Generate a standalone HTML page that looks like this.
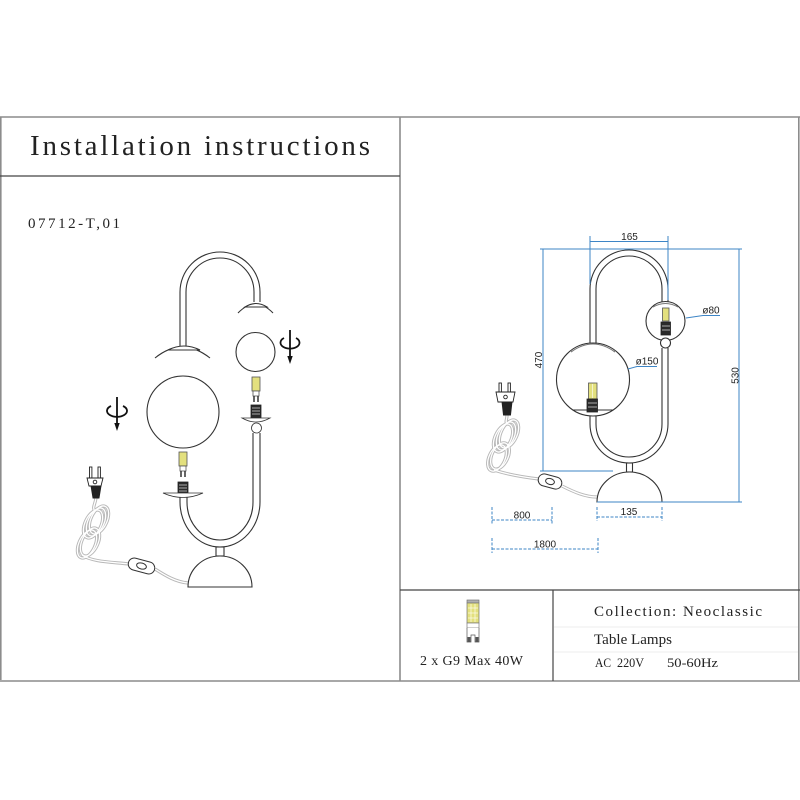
<!DOCTYPE html>
<html><head><meta charset="utf-8"><style>
html,body{margin:0;padding:0;background:#fff;}
svg{display:block;}
</style></head><body>
<svg width="800" height="800" viewBox="0 0 800 800" xmlns="http://www.w3.org/2000/svg">
<rect width="800" height="800" fill="#fff"/>

<!-- frame -->
<g stroke="#8c8c8c" stroke-width="1.6" fill="none">
<line x1="0" y1="117" x2="800" y2="117"/>
<line x1="0.8" y1="117" x2="0.8" y2="681"/>
<line x1="798.8" y1="117" x2="798.8" y2="681"/>
<line x1="0" y1="681" x2="800" y2="681" stroke="#a8a8a8" stroke-width="2"/>
<line x1="400" y1="117" x2="400" y2="681"/>
</g>
<g stroke="#444" stroke-width="1.2">
<line x1="0" y1="176" x2="400" y2="176"/>
<line x1="400" y1="590" x2="800" y2="590"/>
<line x1="553" y1="590" x2="553" y2="681"/>
</g>
<g stroke="#eeeeee" stroke-width="1">
<line x1="554" y1="627" x2="798" y2="627"/>
<line x1="554" y1="652" x2="798" y2="652"/>
</g>

<!-- texts -->
<g font-family="'Liberation Serif', serif" fill="#222">
<text x="30" y="155" font-size="29" textLength="340" lengthAdjust="spacing">Installation instructions</text>
<text x="28" y="228" font-size="15" textLength="92" lengthAdjust="spacing">07712-T,01</text>
<text x="420" y="665" font-size="14" textLength="103" lengthAdjust="spacing">2 x G9 Max 40W</text>
<text x="594" y="616" font-size="15" textLength="168" lengthAdjust="spacing">Collection: Neoclassic</text>
<text x="594" y="644" font-size="15" textLength="78" lengthAdjust="spacing">Table Lamps</text>
<text x="595" y="667" font-size="13" textLength="16" lengthAdjust="spacingAndGlyphs">AC</text>
<text x="617" y="667" font-size="13" textLength="27" lengthAdjust="spacingAndGlyphs">220V</text>
<text x="667" y="667" font-size="13" textLength="51" lengthAdjust="spacingAndGlyphs">50-60Hz</text>
</g>

<!-- panel bulb icon -->
<g stroke-width="0.7">
<rect x="467" y="600" width="12" height="3" fill="#b0b0b0" stroke="#777"/>
<rect x="467" y="603" width="12" height="20" fill="#e3e07e" stroke="#777"/>
<g stroke="#fff" stroke-width="0.6">
<line x1="471" y1="604" x2="471" y2="622"/><line x1="475" y1="604" x2="475" y2="622"/>
<line x1="468" y1="608" x2="478" y2="608"/><line x1="468" y1="613" x2="478" y2="613"/><line x1="468" y1="618" x2="478" y2="618"/>
</g>
<rect x="467" y="623" width="12" height="5" fill="#fff" stroke="#777"/>
<path d="M467,628 V642 H471 V635 H475 V642 H479 V628" fill="#fff" stroke="#555"/>
<rect x="467.5" y="637" width="3" height="5" fill="#555" stroke="none"/>
<rect x="475.5" y="637" width="3" height="5" fill="#555" stroke="none"/>
</g>

<!-- ============ LEFT DRAWING ============ -->
<g fill="none" stroke="#b8b8b8" stroke-width="3.2">
<path d="M96,498 C95,505 92,507 95,512"/>
<ellipse cx="99" cy="520" rx="8" ry="15" transform="rotate(25 99 520)"/>
<ellipse cx="96" cy="522" rx="8" ry="15" transform="rotate(25 96 522)"/>
<ellipse cx="93" cy="524" rx="8" ry="15" transform="rotate(25 93 524)"/>
<ellipse cx="90" cy="542" rx="8" ry="15" transform="rotate(25 90 542)"/>
<ellipse cx="87" cy="544" rx="8" ry="15" transform="rotate(25 87 544)"/>
<path d="M82,555 C92,562 112,562 129,564"/>
<path d="M155,569 C166,576 176,582 188,583"/>
</g>
<g fill="none" stroke="#fff" stroke-width="1.3">
<path d="M96,498 C95,505 92,507 95,512"/>
<ellipse cx="99" cy="520" rx="8" ry="15" transform="rotate(25 99 520)"/>
<ellipse cx="96" cy="522" rx="8" ry="15" transform="rotate(25 96 522)"/>
<ellipse cx="93" cy="524" rx="8" ry="15" transform="rotate(25 93 524)"/>
<ellipse cx="90" cy="542" rx="8" ry="15" transform="rotate(25 90 542)"/>
<ellipse cx="87" cy="544" rx="8" ry="15" transform="rotate(25 87 544)"/>
<path d="M82,555 C92,562 112,562 129,564"/>
<path d="M155,569 C166,576 176,582 188,583"/>
</g>
<g transform="rotate(15 141.5 566)" stroke="#333" stroke-width="1" fill="#fff">
<rect x="128" y="560" width="27" height="12" rx="6"/>
<ellipse cx="141.5" cy="566" rx="5" ry="3"/>
</g>
<g stroke="#222" stroke-width="0.9" fill="#fff">
<rect x="89.5" y="467" width="2.4" height="11"/>
<rect x="98" y="467" width="2.4" height="11"/>
<path d="M87,478 L103,478 L101,486 L89,486 Z"/>
<circle cx="95" cy="482" r="1.8"/>
<path d="M91,486 L101,486 L99,498 L93,498 Z" fill="#222"/>
</g>

<g fill="none" stroke="#333" stroke-width="1.1">
<path d="M180,347 V292 A40,40 0 0 1 260,292 V302"/>
<path d="M186,347 V292 A34,34 0 0 1 254,292 V302"/>
<path d="M155,358 Q182,336 210,358"/>
<path d="M168,350 Q184,342 200,350 Z" fill="#fff"/>
<path d="M238,313 Q255.5,295 273,313"/>
<path d="M245,307 Q256,300 267,307 Z" fill="#fff"/>
<circle cx="255.5" cy="352" r="19.5"/>
<circle cx="183" cy="412" r="36"/>
<path d="M180,497 V502 A40,45 0 0 0 260,502 V433"/>
<path d="M187,497 V502 A33,38 0 0 0 253,502 V433"/>
<rect x="216" y="547" width="8" height="9" fill="#fff"/>
<path d="M188,587 A32,31 0 0 1 252,587 Z" fill="#fff"/>
</g>

<g stroke="#555" stroke-width="0.8">
<rect x="252" y="377" width="8" height="14" fill="#e3e07e"/>
<rect x="253" y="391" width="6" height="5" fill="#fff"/>
<line x1="254" y1="396" x2="254" y2="402" stroke="#333" stroke-width="1.5"/>
<line x1="258" y1="396" x2="258" y2="402" stroke="#333" stroke-width="1.5"/>
<rect x="251" y="405" width="10" height="13" fill="#2a2a2a" stroke="#222"/>
<path d="M242,418 L270,418 Q256,426 242,418 Z" fill="#fff" stroke="#333"/>
<circle cx="256.5" cy="428" r="5" fill="#fff" stroke="#333"/>

<rect x="179" y="452" width="8" height="14" fill="#e3e07e"/>
<rect x="180" y="466" width="6" height="5" fill="#fff"/>
<line x1="181" y1="471" x2="181" y2="477" stroke="#333" stroke-width="1.5"/>
<line x1="185" y1="471" x2="185" y2="477" stroke="#333" stroke-width="1.5"/>
<rect x="178" y="482" width="10" height="12" fill="#2a2a2a" stroke="#222"/>
<path d="M163,493 L203,493 Q183,502 163,493 Z" fill="#fff" stroke="#333"/>
</g>
<g stroke="#fff" stroke-width="0.6">
<line x1="252" y1="408" x2="260" y2="408"/><line x1="252" y1="411" x2="260" y2="411"/><line x1="252" y1="414" x2="260" y2="414"/>
<line x1="179" y1="485" x2="187" y2="485"/><line x1="179" y1="488" x2="187" y2="488"/><line x1="179" y1="491" x2="187" y2="491"/>
</g>

<g stroke="#111" stroke-width="1.8" fill="none">
<line x1="290" y1="330" x2="290" y2="358"/>
<path d="M284,338 A9.5,6 0 1 0 296,338"/>
<line x1="117" y1="397" x2="117" y2="424"/>
<path d="M111,406 A10,6 0 1 0 123,406"/>
</g>
<polygon points="287.3,356 292.7,356 290,364" fill="#111"/>
<polygon points="114.3,423 119.7,423 117,431" fill="#111"/>

<!-- ============ RIGHT DRAWING ============ -->
<g fill="none" stroke="#b8b8b8" stroke-width="3.2">
<path d="M507,415 C507,420 505,421 507,424"/>
<ellipse cx="509" cy="434" rx="8" ry="15" transform="rotate(25 509 434)"/>
<ellipse cx="506" cy="436" rx="8" ry="15" transform="rotate(25 506 436)"/>
<ellipse cx="503" cy="438" rx="8" ry="15" transform="rotate(25 503 438)"/>
<ellipse cx="500" cy="456" rx="8" ry="14" transform="rotate(25 500 456)"/>
<ellipse cx="497" cy="458" rx="8" ry="14" transform="rotate(25 497 458)"/>
<path d="M494,470 C506,474 522,477 539,479"/>
<path d="M562,486 C574,492 585,497 597,497"/>
</g>
<g fill="none" stroke="#fff" stroke-width="1.3">
<path d="M507,415 C507,420 505,421 507,424"/>
<ellipse cx="509" cy="434" rx="8" ry="15" transform="rotate(25 509 434)"/>
<ellipse cx="506" cy="436" rx="8" ry="15" transform="rotate(25 506 436)"/>
<ellipse cx="503" cy="438" rx="8" ry="15" transform="rotate(25 503 438)"/>
<ellipse cx="500" cy="456" rx="8" ry="14" transform="rotate(25 500 456)"/>
<ellipse cx="497" cy="458" rx="8" ry="14" transform="rotate(25 497 458)"/>
<path d="M494,470 C506,474 522,477 539,479"/>
<path d="M562,486 C574,492 585,497 597,497"/>
</g>
<g transform="rotate(15 550 481.5)" stroke="#333" stroke-width="1" fill="#fff">
<rect x="538" y="475.5" width="24" height="12" rx="6"/>
<ellipse cx="550" cy="481.5" rx="4.5" ry="3"/>
</g>
<g stroke="#222" stroke-width="0.9" fill="#fff">
<rect x="499" y="383" width="2.4" height="9.5"/>
<rect x="508" y="383" width="2.4" height="9.5"/>
<path d="M496,392 L515,392 L513,402 L498,402 Z"/>
<circle cx="505.5" cy="397" r="1.8"/>
<path d="M502,402 L512,402 L510.5,415 L503.5,415 Z" fill="#222"/>
</g>

<g fill="none" stroke="#333" stroke-width="1.1">
<path d="M590,343 V289 A39,39 0 0 1 668,289 V302"/>
<path d="M596,344 V289 A33,33 0 0 1 662,289 V302"/>
<circle cx="593" cy="379.5" r="36.5"/>
<path d="M571,352 Q593,336 615,352" stroke="#777"/>
<line x1="573" y1="410" x2="613" y2="410"/>
<circle cx="665.5" cy="321" r="19.5"/>
<path d="M653,307 Q665.5,300 678,307" stroke="#777"/>
<path d="M590,416 V424 A39,39 0 0 0 668,424 V348"/>
<path d="M596,416 V424 A33,33 0 0 0 662,424 V348"/>
<circle cx="665.5" cy="343" r="5" fill="#fff"/>
<rect x="626.5" y="463" width="6" height="9" fill="#fff"/>
<path d="M597,502 A32.5,30 0 0 1 662,502 Z" fill="#fff"/>
</g>
<g stroke="#555" stroke-width="0.8">
<rect x="662.5" y="308" width="6.5" height="13" fill="#e3e07e"/>
<rect x="661" y="322" width="9.5" height="13" fill="#2a2a2a" stroke="#222"/>
<rect x="588.5" y="383" width="8.5" height="16" fill="#e3e07e"/>
<rect x="587" y="399" width="10.5" height="13" fill="#2a2a2a" stroke="#222"/>
</g>
<g stroke="#fff" stroke-width="0.6">
<line x1="662" y1="326" x2="670" y2="326"/><line x1="662" y1="330" x2="670" y2="330"/>
<line x1="588" y1="403" x2="597" y2="403"/><line x1="588" y1="407" x2="597" y2="407"/>
<line x1="592.5" y1="384" x2="592.5" y2="398"/>
</g>

<!-- dimensions -->
<g stroke="#3d85c6" stroke-width="1" fill="none">
<line x1="590" y1="236" x2="590" y2="284"/>
<line x1="668" y1="236" x2="668" y2="300"/>
<line x1="590" y1="241.5" x2="668" y2="241.5"/>
<line x1="540" y1="249" x2="742" y2="249"/>
<line x1="543" y1="249" x2="543" y2="471"/>
<line x1="540" y1="471" x2="613" y2="471"/>
<line x1="739" y1="249" x2="739" y2="502"/>
<line x1="597" y1="502" x2="742" y2="502"/>
<polyline points="686,318 703,315.5 720,315.5"/>
<polyline points="628,369 637,366.5 657,366.5"/>
</g>
<g stroke="#3d85c6" stroke-width="1" stroke-dasharray="3,1.5" fill="none">
<line x1="597" y1="517" x2="662" y2="517"/>
<line x1="597" y1="507" x2="597" y2="521"/>
<line x1="662" y1="507" x2="662" y2="521"/>
<line x1="492" y1="520" x2="552" y2="520"/>
<line x1="492" y1="507" x2="492" y2="524"/>
<line x1="552" y1="507" x2="552" y2="524"/>
<line x1="492" y1="549" x2="598" y2="549"/>
<line x1="492" y1="538" x2="492" y2="553"/>
<line x1="598" y1="538" x2="598" y2="553"/>
</g>
<g font-family="'Liberation Sans', sans-serif" font-size="10" fill="#222" text-anchor="middle">
<text x="629.5" y="240">165</text>
<text x="711" y="313.5">ø80</text>
<text x="647" y="364.5">ø150</text>
<text x="629" y="515">135</text>
<text x="522" y="518.5">800</text>
<text x="545" y="547.5">1800</text>
<text transform="translate(542,360) rotate(-90)">470</text>
<text transform="translate(738.5,375.5) rotate(-90)">530</text>
</g>
</svg>
</body></html>
